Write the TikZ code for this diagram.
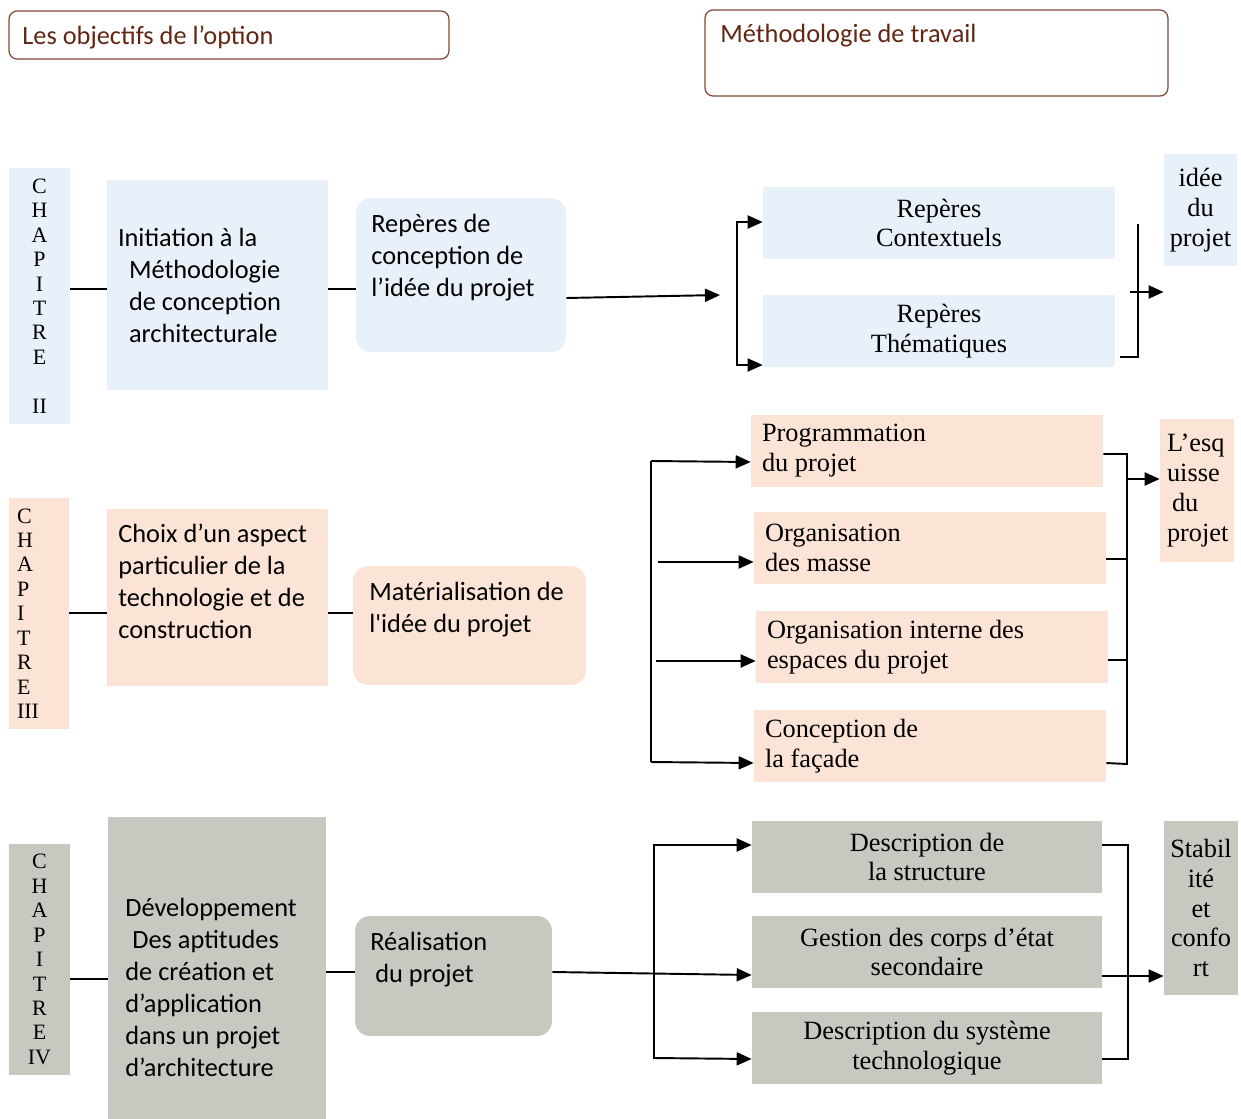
\documentclass[tikz,border=0pt]{standalone}
\usepackage{fontspec}
\setmainfont{Liberation Serif}
\newfontfamily\calibri{Carlito}
\usetikzlibrary{arrows.meta, calc}
\definecolor{paleblue}{RGB}{232,240,249}
\definecolor{palepeach}{RGB}{251,228,213}
\definecolor{palegrey}{RGB}{197,201,192}
\definecolor{darkbrown}{RGB}{98,38,18}
\definecolor{framebrown}{RGB}{128,70,52}

\tikzset{
  plainbox/.style={rectangle, inner sep=0pt, draw=none},
  bluebox/.style={plainbox, fill=paleblue},
  peachbox/.style={plainbox, fill=palepeach},
  greybox/.style={plainbox, fill=palegrey},
  soft/.style={rounded corners=0.3cm},
  sanstext/.style={inner sep=0pt, align=flush left, anchor=west, font=\calibri\fontsize{15}{18.2}\selectfont},
  headtext/.style={sanstext, text=darkbrown},
  seriftext/.style={align=center, font=\fontsize{15}{17}\selectfont},
  chaptext/.style={align=center, font=\fontsize{12.5}{13.9}\selectfont},
  headbox/.style={draw=framebrown, line width=0.7pt, rounded corners=0.16cm, inner sep=0pt},
  ln/.style={line width=1.1pt},
  arr/.style={ln, -{Triangle[length=0.3cm,width=0.26cm]}},
}

\begin{document}
\begin{tikzpicture}[x=0.02cm, y=-0.02cm]
    \useasboundingbox (0,0) rectangle (1241,1119);

    \node[headbox, minimum width=8.8cm, minimum height=0.96cm] (obj) at (229,35) {};
    \node[headtext] (obj-t) at (22,37) {Les objectifs de l’option};
    \node[headbox, minimum width=9.26cm, minimum height=1.72cm] (meth) at (936.5,53) {};
    \node[headtext] (meth-t) at (720,36) {Méthodologie de travail};

    % chapitre II
    \node[bluebox, chaptext, minimum width=1.22cm, minimum height=5.12cm] (chap2) at (39.5,296)
        {C\\H\\A\\P\\I\\T\\R\\E\\[13.9pt]II};
    \node[bluebox, sanstext, anchor=center, text width=3.98cm, minimum width=4.42cm, minimum height=4.2cm] (init) at (217.5,285)
        {Initiation à la\\\hspace*{0.22cm}Méthodologie\\\hspace*{0.22cm}de conception\\\hspace*{0.22cm}architecturale};
    \node[bluebox, soft, minimum width=4.2cm, minimum height=3.08cm] (rep) at (461,275) {};
    \node[sanstext] (rep-t) at (371,258) {Repères de\\conception de\\l’idée du projet};
    \node[bluebox, seriftext, minimum width=7.04cm, minimum height=1.44cm] (ctx) at (939,223) {Repères\\Contextuels};
    \node[bluebox, seriftext, minimum width=7.04cm, minimum height=1.44cm] (them) at (939,331) {Repères\\Thématiques};
    \node[bluebox, seriftext, minimum width=1.46cm, minimum height=2.24cm] (idee) at (1200.5,210) {idée\\du\\projet};
    \coordinate (c1) at (720,295);

    \draw[ln] (chap2.east |- 0,289) -- (init.west |- 0,289);
    \draw[ln] (init.east |- 0,289) -- (rep.west |- 0,289);
    \draw[arr] (rep.east |- 0,298) -- (c1);
    \draw[arr] (737,365) -- (737,222) -- (ctx.west |- 0,222);
    \draw[arr] (737,300) -- (737,365) -- (them.west |- 0,365);
    \draw[ln] (1138,224) -- (1138,357) -- ([xshift=0.1cm]them.east |- 0,357);
    \draw[arr] (1130,292) -- (idee.west |- 0,292);

    % chapitre III
    \node[peachbox, chaptext, align=flush left, text width=0.88cm, minimum width=1.2cm, minimum height=4.62cm] (chap3) at (39,613.5)
        {C\\H\\A\\P\\I\\T\\R\\E\\III};
    \node[peachbox, minimum width=4.42cm, minimum height=3.54cm] (choix) at (217.5,597.5) {};
    \node[sanstext] (choix-t) at (118,581) {Choix d’un aspect\\particulier de la\\technologie et de\\construction};
    \node[peachbox, soft, minimum width=4.66cm, minimum height=2.38cm] (mat) at (469.5,625.5) {};
    \node[sanstext] (mat-t) at (369,609.5) {Matérialisation de\\l'idée du projet};
    \node[peachbox, seriftext, align=flush left, text width=6.6cm, minimum width=7.04cm, minimum height=1.44cm] (prog) at (927,451) {Programmation\\du projet};
    \node[peachbox, seriftext, align=flush left, text width=6.6cm, minimum width=7.04cm, minimum height=1.44cm] (org) at (930,548) {Organisation\\des masse};
    \node[peachbox, seriftext, align=flush left, text width=6.6cm, minimum width=7.04cm, minimum height=1.44cm] (orgint) at (932,647) {Organisation interne des\\espaces du projet};
    \node[peachbox, seriftext, align=flush left, text width=6.6cm, minimum width=7.04cm, minimum height=1.44cm] (fac) at (930,746) {Conception de\\la façade};
    \node[peachbox, seriftext, align=flush left, text width=1.2cm, minimum width=1.48cm, minimum height=2.86cm] (esq) at (1197,490.5) {L’esq\\uisse\\\hspace*{0.1cm}du\\projet};

    \draw[ln] (chap3.east |- 0,613) -- (choix.west |- 0,613);
    \draw[ln] (choix.east |- 0,613) -- (mat.west |- 0,613);
    \draw[ln] (651,461) -- (651,762);
    \draw[arr] (651,461) -- (prog.west |- 0,462);
    \draw[arr] (658,562) -- (org.west |- 0,562);
    \draw[arr] (656,661) -- (orgint.west |- 0,661);
    \draw[arr] (651,762) -- (fac.west |- 0,763);
    \draw[ln] (prog.east |- 0,454) -- (1127,454) -- (1127,764) -- (fac.east |- 0,763);
    \draw[ln] (org.east |- 0,559) -- (1127,559);
    \draw[ln] (orgint.east |- 0,660) -- (1127,660);
    \draw[arr] (1127,479) -- (esq.west |- 0,479);

    % chapitre IV
    \node[greybox, chaptext, minimum width=1.22cm, minimum height=4.62cm] (chap4) at (39.5,959.5)
        {C\\H\\A\\P\\I\\T\\R\\E\\IV};
    \node[greybox, minimum width=4.36cm, minimum height=6.04cm] (dev) at (217,968) {};
    \node[sanstext] (dev-t) at (125,987)
        {Développement\\\hspace*{0.14cm}Des aptitudes\\de création et\\d’application\\dans un projet\\d’architecture};
    \node[greybox, soft, minimum width=3.94cm, minimum height=2.4cm] (real) at (453.5,976) {};
    \node[sanstext] (real-t) at (370,959.5) {Réalisation\\\hspace*{0.1cm}du projet};
    \node[greybox, seriftext, minimum width=7cm, minimum height=1.44cm] (struc) at (927,857) {Description de\\la structure};
    \node[greybox, seriftext, minimum width=7cm, minimum height=1.44cm] (gest) at (927,952) {Gestion des corps d’état\\secondaire};
    \node[greybox, seriftext, minimum width=7cm, minimum height=1.44cm] (syst) at (927,1048) {Description du système\\technologique};
    \node[greybox, seriftext, minimum width=1.48cm, minimum height=3.48cm] (stab) at (1201,908) {Stabil\\ité\\et\\confo\\rt};

    \draw[ln] (chap4.east |- 0,979) -- (dev.west |- 0,979);
    \draw[ln] (dev.east |- 0,972) -- (real.west |- 0,972);
    \draw[arr] (real.east |- 0,972) -- (gest.west |- 0,975);
    \draw[arr] (654,1058) -- (654,845) -- (struc.west |- 0,845);
    \draw[arr] (654,950) -- (654,1058) -- (syst.west |- 0,1059);
    \draw[ln] (struc.east |- 0,845) -- (1128,845) -- (1128,1059) -- (syst.east |- 0,1059);
    \draw[arr] (gest.east |- 0,976) -- (stab.west |- 0,976);
\end{tikzpicture}
\end{document}
